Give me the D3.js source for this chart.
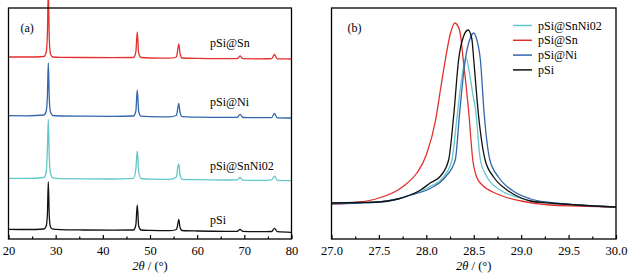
<!DOCTYPE html>
<html>
<head>
<meta charset="utf-8">
<script src="https://cdn.jsdelivr.net/npm/d3@7"></script>
<style>
  body { margin: 0; background: #fff; }
  svg { display: block; font-family: "Liberation Serif", "Times New Roman", serif; }
</style>
</head>
<body>
<svg id="chart" width="629" height="279"></svg>
<script>
// ---- data: panel (a), wide scan ----
const thetaWide = [20, 24, 27.5, 28.0, 28.25, 28.44, 28.65, 28.9, 29.4, 31, 36, 42, 46.5, 47.0, 47.3, 47.6, 48.1, 50, 54, 55.6, 55.9, 56.1, 56.35, 56.8, 60, 66, 68.5, 69.1, 69.7, 73, 75.8, 76.4, 77.0, 80];
const wideSn = [182, 182, 182.5, 187, 205, 250, 200, 185, 182, 181.7, 181.5, 181.3, 181.5, 187, 207, 186, 181.5, 181, 180.8, 182, 190, 195, 186, 181, 180.6, 180.4, 180.4, 183, 180.3, 180.2, 180.3, 184.5, 180.1, 180];
const wideNi = [123.3, 123.2, 124, 128, 143, 176, 140, 127, 123.5, 123, 122.8, 122.6, 123, 128, 149, 127.5, 122.8, 122.4, 122.2, 123.5, 131, 135.7, 127, 122.3, 121.9, 121.6, 121.6, 124.7, 121.5, 121.3, 121.4, 125.5, 121.2, 121];
const wideSnNi02 = [60.7, 60.6, 61.5, 67, 90, 119.7, 82, 66, 61.2, 60.4, 60.2, 60, 60.6, 70, 88, 67, 60.5, 59.8, 59.6, 62, 72, 75, 65, 59.7, 59.3, 59, 59.2, 61.5, 58.9, 58.7, 59.2, 62.8, 58.6, 58.3];
const widePSi = [9.7, 9.5, 10, 13, 25, 57, 22, 12, 9.8, 9.3, 9, 8.8, 9, 14, 34, 13, 9, 8.6, 8.3, 9.5, 15, 19.7, 12, 8.5, 8, 7.7, 7.7, 9.7, 7.6, 7.3, 7.5, 10.7, 7.3, 6.7];

// ---- data: panel (b), (111) peak ----
const zoomSnNi02 = [[27.0, 36], [27.3, 36.5], [27.5, 37], [27.7, 40], [27.83, 44], [27.95, 48], [28.05, 53], [28.18, 62], [28.27, 79], [28.32, 119], [28.375, 162], [28.42, 181], [28.46, 163], [28.49, 145], [28.52, 129], [28.57, 79], [28.64, 62], [28.78, 49], [28.99, 41], [29.1, 38], [29.3, 36], [29.6, 34], [30.0, 32]];
const zoomSn = [[27.0, 35], [27.3, 37], [27.5, 41], [27.7, 49], [27.8, 56], [27.9, 66], [28.0, 84], [28.1, 120], [28.15, 150], [28.2, 179], [28.25, 204], [28.3, 216], [28.35, 209], [28.39, 179], [28.445, 129], [28.49, 79], [28.53, 62], [28.6, 53], [28.7, 47], [28.8, 43], [29.0, 38], [29.3, 34], [29.6, 33], [30.0, 32]];
const zoomNi = [[27.0, 35.5], [27.3, 36], [27.5, 37], [27.7, 40], [27.83, 44], [27.95, 47], [28.05, 51], [28.2, 62], [28.305, 79], [28.35, 125], [28.41, 179], [28.46, 200], [28.5, 206], [28.53, 200], [28.57, 179], [28.61, 125], [28.67, 79], [28.76, 62], [28.9, 49], [29.1, 40], [29.3, 36.5], [29.6, 34], [30.0, 32]];
const zoomPSi = [[27.0, 36], [27.3, 36.5], [27.5, 37], [27.7, 40], [27.83, 44], [27.94, 49], [28.04, 56], [28.15, 63], [28.235, 79], [28.29, 125], [28.34, 179], [28.39, 202], [28.44, 209], [28.48, 200], [28.5, 179], [28.55, 124], [28.62, 79], [28.71, 62], [28.85, 49], [29.0, 41], [29.1, 38], [29.3, 36], [29.6, 34], [30.0, 32]];

const wideTicks = [20, 30, 40, 50, 60, 70, 80];
const wideMinor = [25, 35, 45, 55, 65, 75];
const zoomTicks = [27.0, 27.5, 28.0, 28.5, 29.0, 29.5, 30.0];
const zoomMinor = [27.25, 27.75, 28.25, 28.75, 29.25, 29.75];

const seriesNames = ["pSi@SnNi02", "pSi@Sn", "pSi@Ni", "pSi"];
const seriesColors = ["#63c6c8", "#e3302d", "#3466ac", "#111111"];

const serif = "'Liberation Serif', 'Times New Roman', serif";
const svg = d3.select("#chart").attr("font-family", serif);
const plotTop = 8, plotBottom = 239;

// draws one framed panel with inward ticks
function drawFrame(x, major, minor, fmt) {
  const [x0, x1] = x.range();
  svg.append("g")
    .attr("transform", `translate(0, ${plotBottom})`)
    .call(d3.axisBottom(x).tickValues(major).tickFormat(fmt).tickSizeInner(-4).tickSizeOuter(0).tickPadding(7))
    .attr("font-family", serif)
    .attr("font-size", 12.5)
    .call(g => g.select(".domain").remove())
    .call(g => g.selectAll("line").attr("stroke", "#000").attr("stroke-width", 1.2))
    .call(g => g.selectAll("text").attr("fill", "#000"));
  svg.append("g")
    .attr("transform", `translate(0, ${plotBottom})`)
    .call(d3.axisBottom(x).tickValues(minor).tickFormat("").tickSizeInner(-2.5).tickSizeOuter(0))
    .call(g => g.select(".domain").remove())
    .call(g => g.selectAll("line").attr("stroke", "#000").attr("stroke-width", 1.2));
  svg.append("rect")
    .attr("x", x0).attr("y", plotTop)
    .attr("width", x1 - x0).attr("height", plotBottom - plotTop)
    .attr("fill", "none").attr("stroke", "#000").attr("stroke-width", 1.3);

  // Add X Axis Label
  const t = svg.append("text")
    .attr("x", (x0 + x1) / 2).attr("y", 270)
    .attr("text-anchor", "middle")
    .attr("font-size", 12.5);
  t.append("tspan").attr("font-style", "italic").text("2θ");
  t.append("tspan").text(" / (°)");
}

// ---- panel (a) ----
const xA = d3.scaleLinear().domain([20, 80]).range([8.5, 291.5]);
const yA = d3.scaleLinear().domain([0, 231]).range([plotBottom, plotTop]);
const lineA = d3.line().x(d => xA(d[0])).y(d => yA(d[1])).curve(d3.curveMonotoneX);

const wideSeries = [widePSi, wideSnNi02, wideNi, wideSn];
const wideColors = [seriesColors[3], seriesColors[0], seriesColors[2], seriesColors[1]];
wideSeries.forEach((vals, i) => {
  svg.append("path")
    .datum(thetaWide.map((t, j) => [t, vals[j]]))
    .attr("d", lineA)
    .attr("fill", "none")
    .attr("stroke", wideColors[i])
    .attr("stroke-width", 1.3);
});

drawFrame(xA, wideTicks, wideMinor, d3.format("d"));

const wideLabels = ["pSi@Sn", "pSi@Ni", "pSi@SnNi02", "pSi"];
const wideLabelY = [47, 106, 170, 224];
wideLabels.forEach((s, i) => {
  svg.append("text")
    .attr("x", 210).attr("y", wideLabelY[i])
    .attr("font-size", 12)
    .text(s);
});
svg.append("text").attr("x", 20.5).attr("y", 32).attr("font-size", 12).text("(a)");

// ---- panel (b) ----
const xB = d3.scaleLinear().domain([27, 30]).range([331.5, 616]);
const yB = d3.scaleLinear().domain([0, 231]).range([plotBottom, plotTop]);
const lineB = d3.line().x(d => xB(d[0])).y(d => yB(d[1])).curve(d3.curveMonotoneX);

const zoomSeries = [zoomSnNi02, zoomSn, zoomNi, zoomPSi];
zoomSeries.forEach((vals, i) => {
  svg.append("path")
    .datum(vals)
    .attr("d", lineB)
    .attr("fill", "none")
    .attr("stroke", seriesColors[i])
    .attr("stroke-width", 1.3);
});

drawFrame(xB, zoomTicks, zoomMinor, d3.format(".1f"));
svg.append("text").attr("x", 347.5).attr("y", 32).attr("font-size", 12).text("(b)");

// Add Legend
const legendY = [25.5, 40.3, 55.1, 69.9];
seriesNames.forEach((s, i) => {
  svg.append("line")
    .attr("x1", 513).attr("x2", 532)
    .attr("y1", legendY[i]).attr("y2", legendY[i])
    .attr("stroke", seriesColors[i]).attr("stroke-width", 1.5);
  svg.append("text")
    .attr("x", 538).attr("y", legendY[i] + 4)
    .attr("font-size", 12)
    .text(s);
});
</script>
</body>
</html>
